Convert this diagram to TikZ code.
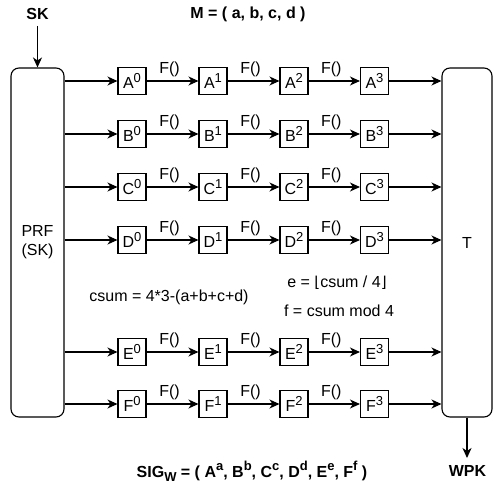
\documentclass[tikz,border=0pt]{standalone}
\usepackage{fontspec}
\setmainfont{Liberation Sans}
\newfontfamily\dejavu{DejaVu Sans}
\usetikzlibrary{arrows.meta}
\newcommand\mysup[1]{\raisebox{0.42em}{\fontsize{13}{15}\selectfont #1}}
\newcommand\mysub[1]{\raisebox{-0.25em}{\fontsize{13}{15}\selectfont #1}}
\tikzset{
  base/.style={font=\fontsize{16}{19}\selectfont},
  bigbox/.style={base, draw, line width=1.1pt, rounded corners=8pt, align=center, inner sep=0pt},
  cell/.style={base, draw, line width=1.1pt, minimum width=28, minimum height=27, inner sep=0pt},
  arr/.style={-{Stealth[length=10pt,width=9pt,inset=3pt]}, line width=1.1pt},
  flabel/.style={base, midway, above=4pt, inner sep=0pt, xshift=-3pt},
  txt/.style={base, inner sep=0pt},
  btxt/.style={base, inner sep=0pt, font=\fontsize{16}{19}\selectfont\bfseries}
}
\begin{document}
\begin{tikzpicture}[x=1pt,y=-1pt]
\useasboundingbox (0,0) rectangle (494,487);
\node[bigbox, minimum width=53, minimum height=349] (prf) at (37.5,242.5) {PRF\\(SK)};
\node[bigbox, minimum width=50, minimum height=349] (t) at (467,242.5) {T};
\node[btxt] (sk) at (37.5,14) {SK};
\node[btxt] (m) at (248,14) {M = ( a, b, c, d )};
\node[btxt] (wpk) at (467.5,471) {WPK};
\node[btxt] (sig) at (252,471) {SIG\mysub{W} = ( A\mysup{a}, B\mysup{b}, C\mysup{c}, D\mysup{d}, E\mysup{e}, F\mysup{f} )};
\coordinate (skend) at (37.5,26);
\draw[arr] (skend) -- (prf.north -| skend);
\coordinate (wpkend) at (467,458);
\draw[arr] (t.south -| wpkend) -- (wpkend);
\node[txt] (csum) at (169,297) {csum = 4*3-(a+b+c+d)};
\node[txt] (e) at (337,283) {e = {\dejavu\fontsize{15}{18}\selectfont ⌊}csum / 4{\dejavu\fontsize{15}{18}\selectfont ⌋}};
\node[txt] (f) at (339,311) {f = csum mod 4};
\foreach \L/\y in {A/81,B/134,C/187,D/240,E/352,F/404}{
  \node[cell] (\L0) at (132,\y) {\L\mysup{0}};
  \node[cell] (\L1) at (213,\y) {\L\mysup{1}};
  \node[cell] (\L2) at (294,\y) {\L\mysup{2}};
  \node[cell] (\L3) at (374.5,\y) {\L\mysup{3}};
  \draw[arr] (prf.east |- \L0) -- (\L0);
  \draw[arr] (\L0) -- node[flabel]{F()} (\L1);
  \draw[arr] (\L1) -- node[flabel]{F()} (\L2);
  \draw[arr] (\L2) -- node[flabel]{F()} (\L3);
  \draw[arr] (\L3) -- (t.west |- \L3);
}
\end{tikzpicture}
\end{document}
